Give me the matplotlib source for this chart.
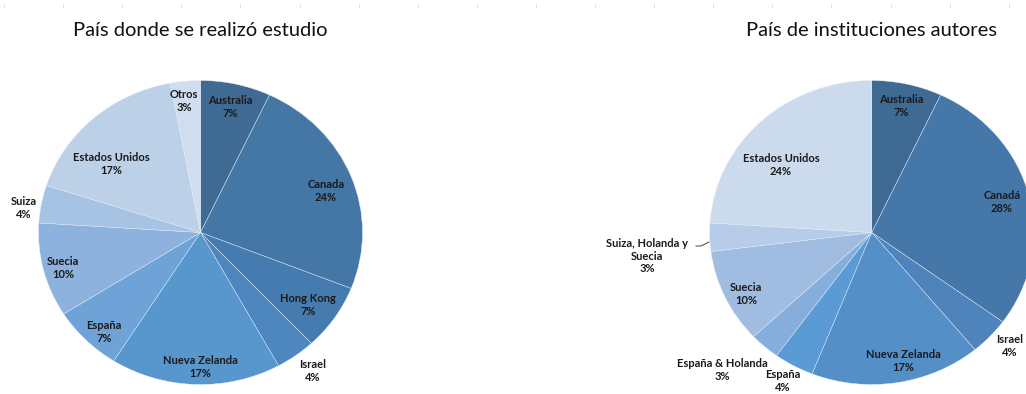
import numpy as np
import matplotlib
matplotlib.use("Agg")
import matplotlib.pyplot as plt

plt.rcParams["font.family"] = ["Lato", "DejaVu Sans"]

# ---- data (percent, clockwise from 12 o'clock) ----
left_title = "País donde se realizó estudio"
left_names = ["Australia", "Canada", "Hong Kong", "Israel", "Nueva Zelanda",
              "España", "Suecia", "Suiza", "Estados Unidos", "Otros"]
left_pct = [7, 24, 7, 4, 17, 7, 10, 4, 17, 3]
left_colors = ["#3E6A94", "#4476A6", "#467BAF", "#4E86C0", "#5896CE",
               "#6FA2D6", "#8DB2DD", "#A7C3E4", "#BCD0E8", "#CFDDEF"]

right_title = "País de instituciones autores"
right_names = ["Australia", "Canadá", "Israel", "Nueva Zelanda", "España",
               "España & Holanda", "Suecia", "Suiza, Holanda y\nSuecia", "Estados Unidos"]
right_pct = [7, 28, 4, 17, 4, 3, 10, 3, 24]
right_colors = ["#3E6A94", "#4577A8", "#4E83BC", "#558FC8", "#5B9BD5",
                "#86AEDC", "#A0BCE0", "#B6CCE8", "#CBDAEC"]

# ---- layout (pixels) ----
W, H = 1026, 394
left_center, right_center = (200.5, 232.5), (871.7, 232.5)
rx, ry = 162, 152
left_label_xy = [(230, 107), (326, 191), (308, 305), (313, 371), (200, 367),
                 (104, 332), (63, 268), (24, 208), (111, 164), (184, 101)]
right_label_xy = [(901, 106), (1002, 202), (1010, 346), (903, 361), (783, 381),
                  (722, 370), (746, 294), (647, 256), (781, 165)]

fig = plt.figure(figsize=(W / 100, H / 100), dpi=100)


def px(x, y):
    return x / W, 1 - y / H


def draw_pie(center, values, colors, names, label_xy, title):
    cx, cy = center
    ax = fig.add_axes([(cx - rx) / W, (H - cy - ry) / H, 2 * rx / W, 2 * ry / H])
    ax.pie(values, colors=colors, startangle=90, counterclock=False,
           wedgeprops=dict(edgecolor="#E4ECF6", linewidth=0.3))
    ax.set_aspect("auto")
    ax.set_xlim(-1, 1)
    ax.set_ylim(-1, 1)
    ax.set_axis_off()
    for name, v, (x, y) in zip(names, values, label_xy):
        fig.text(*px(x, y), f"{name}\n{v}%", ha="center", va="center",
                 fontsize=8, fontweight="bold", color="#1A1A1A", linespacing=1.2)
    fig.text(*px(cx, 30), title, ha="center", va="center", fontsize=14.5,
             color="#111111")
    return ax


draw_pie(left_center, left_pct, left_colors, left_names, left_label_xy, left_title)
draw_pie(right_center, right_pct, right_colors, right_names, right_label_xy, right_title)

# leader line for the small "Suiza, Holanda y Suecia" slice
fig.add_artist(plt.Line2D([696 / W, 701 / W, 709 / W],
                          [1 - 246 / H, 1 - 246 / H, 1 - 242 / H],
                          color="#404040", linewidth=0.7))

# faint ruler ticks along the top edge
for k in range(18):
    x = 4 + 59.1 * k
    fig.add_artist(plt.Line2D([x / W, x / W], [1 - 4 / H, 1 - 7 / H],
                              color="#D8D8EC", linewidth=0.6))

fig.savefig("out.png", dpi=100)
